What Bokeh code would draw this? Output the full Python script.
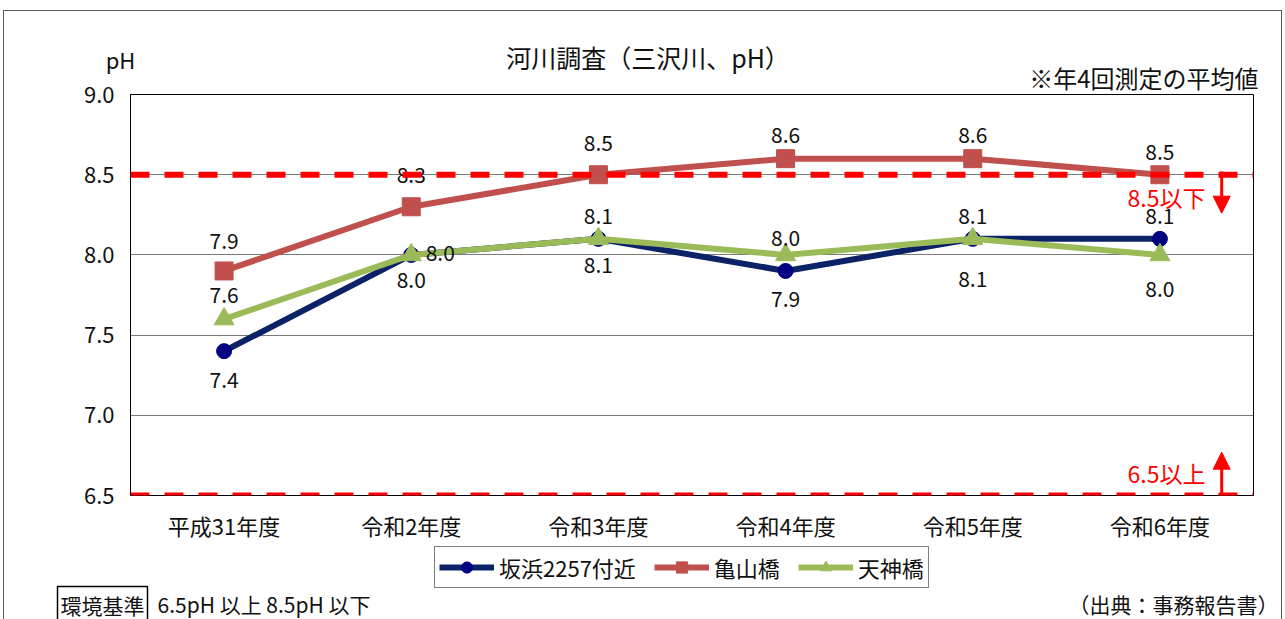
from bokeh.plotting import figure
from bokeh.layouts import column
from bokeh.models import (FactorRange, Range1d, FixedTicker, Span, Arrow, NormalHead, Label,
                          Legend, LegendItem, ColumnDataSource, PrintfTickFormatter)
from bokeh.embed import file_html
from bokeh.resources import INLINE
from bokeh.core.properties import value

# ---- data ----
years = ["平成31年度", "令和2年度", "令和3年度", "令和4年度", "令和5年度", "令和6年度"]
sakahama = [7.4, 8.0, 8.1, 7.9, 8.1, 8.1]   # 坂浜2257付近
kameyama = [7.9, 8.3, 8.5, 8.6, 8.6, 8.5]   # 亀山橋
tenjin = [7.6, 8.0, 8.1, 8.0, 8.1, 8.0]     # 天神橋
series_names = ["坂浜2257付近", "亀山橋", "天神橋"]
y_ticks = [6.5, 7.0, 7.5, 8.0, 8.5, 9.0]
std_upper = 8.5
std_lower = 6.5
upper_arrow_end = 8.26
lower_arrow_end = 6.77
arrow_x = 5.83

# ---- label placement (screen px offsets) ----
saka_dx = [0, 0, 0, 0, 0, 0]
saka_dy = [29, 25, 26, 28, 40, -23]
kame_dx = [0, 0, 0, 0, 0, 0]
kame_dy = [-30, -32, -32, -24, -24, -23]
ten_dx = [0, 29, 0, 0, 0, 0]
ten_dy = [-24, -2, -23, -17, -23, 34]

FONT = "Noto Sans CJK JP"
NAVY_LINE = "#0B2266"
NAVY_MK = "#000080"
RED = "#C0504D"
GREEN = "#9BBB59"
TXT = "#111111"
W = 1277


def no_align(f):
    try:
        f.frame_align = False
    except Exception:
        pass


def blank_fig(h, x_range=None):
    f = figure(width=W, height=h, x_range=x_range if x_range is not None else Range1d(0, 1),
               y_range=Range1d(0, 1), x_axis_type=None, y_axis_type=None, title=None,
               output_backend="svg", toolbar_location=None, min_border=0)
    f.outline_line_color = None
    f.grid.visible = False
    f.background_fill_color = "white"
    f.border_fill_color = "white"
    no_align(f)
    return f


def lab(fig, text, x, y, size, align="left", color=TXT, **kw):
    fig.add_layout(Label(text=text, x=x, y=y, x_units="screen", y_units="screen",
                         text_font=FONT, text_font_size=size, text_color=color,
                         text_align=align, text_baseline="middle", **kw))


# ---- header ----
header = blank_fig(93)
lab(header, "河川調査（三沢川、pH）", 643.5, 48, "25px", align="center")
lab(header, "pH", 116, 46, "22px", align="center")
lab(header, "※年4回測定の平均値", 1254, 27, "24px", align="right")

# ---- main chart ----
p = figure(width=W, height=471, title=None,
           x_range=FactorRange(factors=years, range_padding=0, factor_padding=0),
           y_range=Range1d(6.5, 9.0),
           output_backend="svg", toolbar_location=None,
           min_border_left=126, min_border_right=28, min_border_top=20, min_border_bottom=50)
no_align(p)
p.margin = (-30, 0, 0, 0)
p.background_fill_color = "white"
p.border_fill_alpha = 0
p.outline_line_color = "black"
p.outline_line_width = 1

p.xgrid.visible = False
p.ygrid.ticker = FixedTicker(ticks=y_ticks)
p.ygrid.grid_line_color = "#7a7a7a"
p.ygrid.grid_line_width = 1

p.yaxis.ticker = FixedTicker(ticks=y_ticks)
p.yaxis.formatter = PrintfTickFormatter(format="%.1f")
for ax in (p.xaxis, p.yaxis):
    ax.major_tick_line_color = None
    ax.minor_tick_line_color = None
    ax.major_tick_out = 0
    ax.major_tick_in = 0
    ax.axis_line_color = "black"
    ax.major_label_text_font = FONT
    ax.major_label_text_color = TXT
p.yaxis.major_label_text_font_size = "22px"
p.xaxis.major_label_text_font_size = "22px"
p.yaxis.major_label_standoff = 16
p.xaxis.major_label_standoff = 13

for loc in (std_upper, std_lower):
    p.add_layout(Span(location=loc, dimension="width", line_color="#FF0000",
                      line_width=6, line_dash="19 15"))

styles = [
    (sakahama, NAVY_LINE, NAVY_MK, "circle", 15),
    (kameyama, RED, RED, "square", 18),
    (tenjin, GREEN, GREEN, "triangle", 20),
]
for vals, lc, mc, mk, sz in styles:
    p.line(years, vals, line_width=6, line_color=lc)
    p.scatter(years, vals, marker=mk, size=sz, fill_color=mc, line_color=mc)

for vals, dx, dy in ((sakahama, saka_dx, saka_dy), (kameyama, kame_dx, kame_dy), (tenjin, ten_dx, ten_dy)):
    src = ColumnDataSource(dict(x=years, y=vals, t=[f"{v:.1f}" for v in vals], dx=dx, dy=dy))
    p.text(x="x", y="y", text="t", x_offset="dx", y_offset="dy", source=src,
           text_font=value(FONT), text_font_size="21px", text_color=TXT,
           text_align="center", text_baseline="middle")

for y0, y1 in ((std_upper + 0.02, upper_arrow_end), (std_lower - 0.01, lower_arrow_end)):
    p.add_layout(Arrow(end=NormalHead(size=17, fill_color="#FF0000", line_color="#FF0000"),
                       x_start=arrow_x, y_start=y0, x_end=arrow_x, y_end=y1,
                       line_color="#FF0000", line_width=3))

lab(p, "8.5以下", 1075, 299, "23px", align="right", color="#FF0000")
lab(p, "6.5以上", 1075, 23, "23px", align="right", color="#FF0000")

# ---- footer with legend and notes ----
footer = blank_fig(74, x_range=FactorRange(factors=years))
items = []
for name, (vals, lc, mc, mk, sz) in zip(series_names, styles):
    # same series drawn off-view in the footer; used only as legend glyphs
    rl = footer.line(years, vals, line_width=6, line_color=lc)
    rm = footer.scatter(years, vals, marker=mk, size=sz, fill_color=mc, line_color=mc)
    items.append(LegendItem(label=name, renderers=[rl, rm]))
legend = Legend(items=items, location=(430, 31), orientation="horizontal",
                label_text_font=FONT, label_text_font_size="22px", label_text_color=TXT,
                glyph_width=55, glyph_height=28, label_standoff=5, spacing=18, padding=4,
                margin=0, border_line_color="black", border_line_width=1,
                background_fill_color="white", background_fill_alpha=1)
footer.add_layout(legend, "center")
lab(footer, "環境基準", 53, 15, "21px", border_line_color="black", border_line_width=1.5, padding=3)
lab(footer, "6.5pH 以上 8.5pH 以下", 153, 16, "21px")
lab(footer, "（出典：事務報告書）", 1274, 16, "21px", align="right")

layout = column(header, p, footer, spacing=0, margin=(10, 0, 0, 3),
                styles={"border": "1px solid #595959", "border-bottom": "none"})

open("out.html", "w").write(file_html(layout, INLINE))
